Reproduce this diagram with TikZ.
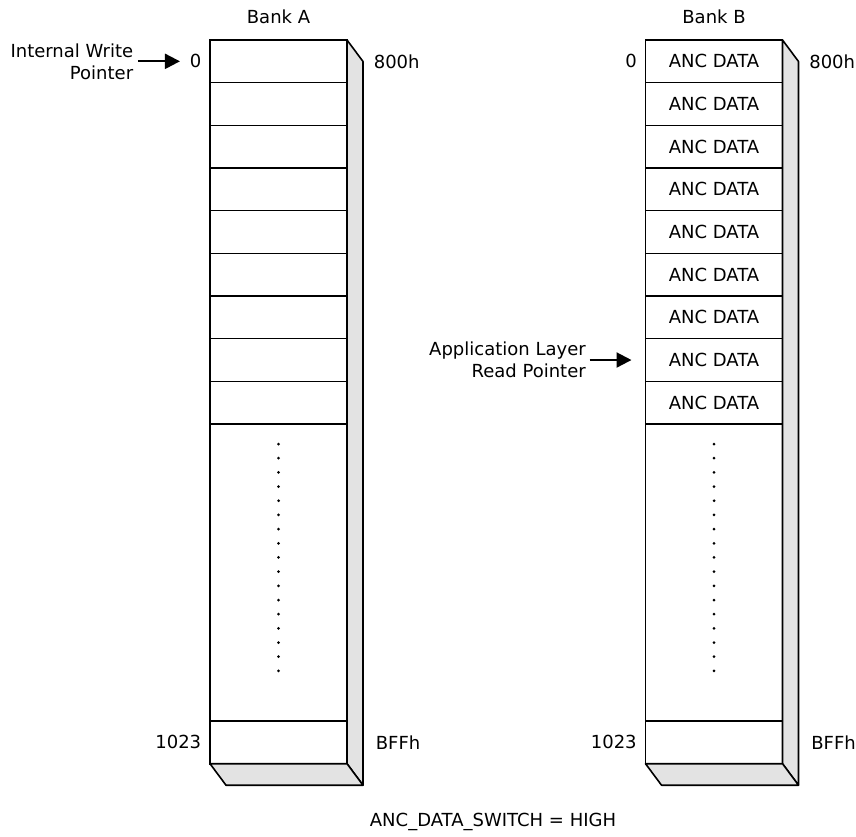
\documentclass[tikz,border=0pt]{standalone}
\usepackage{fontspec}
\setmainfont{DejaVu Sans}
\usetikzlibrary{positioning,arrows.meta}

\begin{document}
\begin{tikzpicture}[
        x=1pt,y=-1pt,
        font=\fontsize{18}{22}\selectfont,
        line width=1.6pt,
        cell/.style={draw,minimum width=137pt,minimum height=42.67pt,inner sep=0pt,outer sep=0pt},
        gap/.style={cell,minimum height=297pt},
        addr/.style={inner sep=0pt},
        face/.style={draw,fill=black!11,line join=round},
        ptr/.style={line width=2.2pt,-{Triangle[length=15pt,width=15pt]}},
        vdots/.style={line width=3pt,line cap=round,dash pattern=on 0pt off 14.18pt}
      ]
      \useasboundingbox (0,0) rectangle (856,837);
      % Bank A
      \node (a0) [cell] at (278.5,61.33) {};
      \node (a1) [cell,below=0pt of a0] {};
      \node (a2) [cell,below=0pt of a1] {};
      \node (a3) [cell,below=0pt of a2] {};
      \node (a4) [cell,below=0pt of a3] {};
      \node (a5) [cell,below=0pt of a4] {};
      \node (a6) [cell,below=0pt of a5] {};
      \node (a7) [cell,below=0pt of a6] {};
      \node (a8) [cell,below=0pt of a7] {};
      \node (adots) [gap,below=0pt of a8] {};
      \node (aend) [cell,below=0pt of adots] {};
      \draw[face] (a0.north east) -- ++(16,21.5) -- ([shift={(16,21.5)}]aend.south east) -- (aend.south east) -- cycle;
      \draw[face] (aend.south west) -- ++(16,21.5) -- ([shift={(16,21.5)}]aend.south east) -- (aend.south east) -- cycle;
      \draw[vdots] ([yshift=-20pt]adots.north) -- ([yshift=36pt]adots.south);
      \node (atitle) [addr,above=15pt of a0] {Bank A};
      \node (a0num) [addr,left=8pt of a0] {0};
      \node (a0hex) [addr,right=26pt of a0] {800h};
      \node (aendnum) [addr,left=8pt of aend] {1023};
      \node (aendhex) [addr,right=28pt of aend] {BFFh};
      \node (wptr) [addr,align=right,left=55pt of a0num] {Internal Write\\Pointer};
      \draw[ptr,shorten <=4pt,shorten >=9pt] (wptr) -- (a0num);

      % Bank B
      \node (b0) [cell] at (714,61.33) {ANC DATA};
      \node (b1) [cell,below=0pt of b0] {ANC DATA};
      \node (b2) [cell,below=0pt of b1] {ANC DATA};
      \node (b3) [cell,below=0pt of b2] {ANC DATA};
      \node (b4) [cell,below=0pt of b3] {ANC DATA};
      \node (b5) [cell,below=0pt of b4] {ANC DATA};
      \node (b6) [cell,below=0pt of b5] {ANC DATA};
      \node (b7) [cell,below=0pt of b6] {ANC DATA};
      \node (b8) [cell,below=0pt of b7] {ANC DATA};
      \node (bdots) [gap,below=0pt of b8] {};
      \node (bend) [cell,below=0pt of bdots] {};
      \draw[face] (b0.north east) -- ++(16,21.5) -- ([shift={(16,21.5)}]bend.south east) -- (bend.south east) -- cycle;
      \draw[face] (bend.south west) -- ++(16,21.5) -- ([shift={(16,21.5)}]bend.south east) -- (bend.south east) -- cycle;
      \draw[vdots] ([yshift=-20pt]bdots.north) -- ([yshift=36pt]bdots.south);
      \node (btitle) [addr,above=15pt of b0] {Bank B};
      \node (b0num) [addr,left=8pt of b0] {0};
      \node (b0hex) [addr,right=26pt of b0] {800h};
      \node (bendnum) [addr,left=8pt of bend] {1023};
      \node (bendhex) [addr,right=28pt of bend] {BFFh};
      \node (rptr) [addr,align=right,left=59pt of b7] {Application Layer\\Read Pointer};
      \draw[ptr,shorten <=3pt,shorten >=14pt] (rptr) -- (b7);

      \node (switch) [addr] at (493,822) {ANC\_DATA\_SWITCH = HIGH};
    \end{tikzpicture}
\end{document}
